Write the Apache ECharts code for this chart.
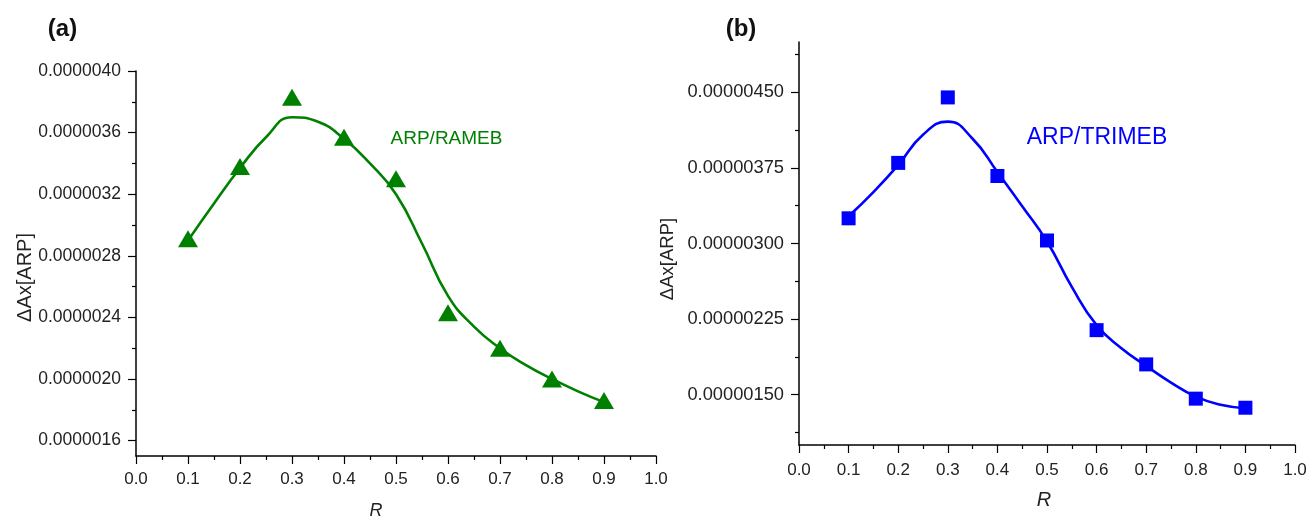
<!DOCTYPE html>
<html>
<head>
<meta charset="utf-8">
<title>ARP / cyclodextrin</title>
<script src="https://cdn.jsdelivr.net/npm/echarts@6/dist/echarts.min.js"></script>
<style>
  html, body { margin: 0; padding: 0; background: #fff; }
  #chart { width: 1311px; height: 518px; }
</style>
</head>
<body>
<div id="chart"></div>
<script>
const rValues = [0.1, 0.2, 0.3, 0.4, 0.5, 0.6, 0.7, 0.8, 0.9]
const fitR = [0.1, 0.15, 0.2, 0.25, 0.3, 0.35, 0.4, 0.45, 0.5, 0.55, 0.6, 0.65, 0.7, 0.75, 0.8, 0.85, 0.9]

// (a) ARP/RAMEB
const ramebPoints = [2.91e-6, 3.38e-6, 3.83e-6, 3.57e-6, 3.30e-6, 2.43e-6, 2.20e-6, 2.00e-6, 1.86e-6]
const ramebFit = [2.90e-6, 3.14e-6, 3.37e-6, 3.57e-6, 3.70e-6, 3.67e-6, 3.56e-6, 3.40e-6, 3.20e-6,
  2.88e-6, 2.54e-6, 2.34e-6, 2.20e-6, 2.09e-6, 2.00e-6, 1.92e-6, 1.85e-6]

// (b) ARP/TRIMEB
const trimebPoints = [3.25e-6, 3.80e-6, 4.45e-6, 3.67e-6, 3.03e-6, 2.14e-6, 1.80e-6, 1.46e-6, 1.37e-6]
const trimebFit = [3.27e-6, 3.51e-6, 3.78e-6, 4.08e-6, 4.21e-6, 4.04e-6, 3.71e-6, 3.37e-6, 3.02e-6,
  2.57e-6, 2.19e-6, 1.96e-6, 1.785e-6, 1.62e-6, 1.48e-6, 1.40e-6, 1.365e-6]

// tick labels
const yTicksA = [0.0000016, 0.0000020, 0.0000024, 0.0000028, 0.0000032, 0.0000036, 0.0000040]
const yMinorA = [0.0000018, 0.0000022, 0.0000026, 0.0000030, 0.0000034, 0.0000038]
const yTicksB = [0.0000015, 0.00000225, 0.0000030, 0.00000375, 0.0000045]
const yMinorB = [0.000001125, 0.000001875, 0.000002625, 0.000003375, 0.000004125, 0.000004875]

const FONT = 'Liberation Sans, Arial, sans-serif'
const GREEN = '#008000'
const BLUE = '#0000ff'

function pair(xs, ys) {
  return xs.map((x, i) => [x, ys[i]])
}

function xAxisFor(grid, margin) {
  return {
    type: 'value', gridIndex: grid, min: 0, max: 1, interval: 0.1,
    axisLine: { lineStyle: { color: '#000', width: 1.5 } },
    axisTick: { length: 8, lineStyle: { color: '#000', width: 1.2 } },
    minorTick: { show: true, splitNumber: 2, length: 4, lineStyle: { color: '#000', width: 1.2 } },
    splitLine: { show: false },
    axisLabel: { fontFamily: FONT, fontSize: 17, color: '#222', margin: margin,
      formatter: v => v.toFixed(1) }
  }
}

function yAxisFor(grid, min, max, ticks, digits, size) {
  return {
    type: 'value', gridIndex: grid, position: 'left', min: min, max: max,
    axisLine: { show: true, lineStyle: { color: '#000', width: 1.5 } },
    axisTick: { show: true, length: 8, customValues: ticks, lineStyle: { color: '#000', width: 1.2 } },
    splitLine: { show: false },
    axisLabel: { customValues: ticks, fontFamily: FONT, fontSize: size, color: '#222', margin: 15,
      formatter: v => v.toFixed(digits) }
  }
}

function minorAxisFor(grid, min, max, ticks) {
  return {
    type: 'value', gridIndex: grid, position: 'left', min: min, max: max,
    axisLine: { show: false },
    axisTick: { show: true, length: 4, customValues: ticks, lineStyle: { color: '#000', width: 1.2 } },
    splitLine: { show: false },
    axisLabel: { show: false }
  }
}

function label(text, x, y, font, color, rotate) {
  return {
    type: 'text', x: x, y: y, rotation: rotate ? Math.PI / 2 : 0,
    style: { text: text, font: font, fill: color, align: 'center', verticalAlign: 'middle' }
  }
}

const chart = echarts.init(document.getElementById('chart'))

chart.setOption({
  animation: false,
  backgroundColor: '#fff',
  grid: [
    { left: 136, top: 71, width: 520, height: 385, outerBoundsMode: 'none' },
    { left: 799, top: 42, width: 496, height: 403, outerBoundsMode: 'none' }
  ],
  xAxis: [xAxisFor(0, 15), xAxisFor(1, 17)],
  yAxis: [
    yAxisFor(0, 0.0000015, 0.0000040, yTicksA, 7, 17.5),
    minorAxisFor(0, 0.0000015, 0.0000040, yMinorA),
    yAxisFor(1, 0.0000010, 0.0000050, yTicksB, 8, 18.3),
    minorAxisFor(1, 0.0000010, 0.0000050, yMinorB)
  ],
  series: [
    {
      name: 'RAMEB fit', type: 'line', xAxisIndex: 0, yAxisIndex: 0,
      data: pair(fitR, ramebFit), smooth: 0.5, showSymbol: false,
      lineStyle: { color: GREEN, width: 2.6 }
    },
    {
      name: 'ARP/RAMEB', type: 'scatter', xAxisIndex: 0, yAxisIndex: 0,
      data: pair(rValues, ramebPoints), symbol: 'triangle', symbolSize: [20, 17],
      itemStyle: { color: GREEN, opacity: 1 }
    },
    {
      name: 'TRIMEB fit', type: 'line', xAxisIndex: 1, yAxisIndex: 2,
      data: pair(fitR, trimebFit), smooth: 0.5, showSymbol: false,
      lineStyle: { color: BLUE, width: 2.6 }
    },
    {
      name: 'ARP/TRIMEB', type: 'scatter', xAxisIndex: 1, yAxisIndex: 2,
      data: pair(rValues, trimebPoints), symbol: 'rect', symbolSize: 14,
      itemStyle: { color: BLUE, opacity: 1 }
    }
  ],
  graphic: [
    label('(a)', 62.5, 29, 'bold 24px ' + FONT, '#111'),
    label('(b)', 741, 29.5, 'bold 24px ' + FONT, '#111'),
    label('ARP/RAMEB', 446.5, 138.5, '19px ' + FONT, GREEN),
    label('ARP/TRIMEB', 1097, 138, '23px ' + FONT, BLUE),
    label('ΔAx[ARP]', 25.5, 277.5, '20px ' + FONT, '#222', true),
    label('ΔAx[ARP]', 667.5, 259, '18.5px ' + FONT, '#222', true),
    label('R', 376, 511, 'italic 18px ' + FONT, '#222'),
    label('R', 1044, 500, 'italic 20px ' + FONT, '#222')
  ]
})
</script>
</body>
</html>
